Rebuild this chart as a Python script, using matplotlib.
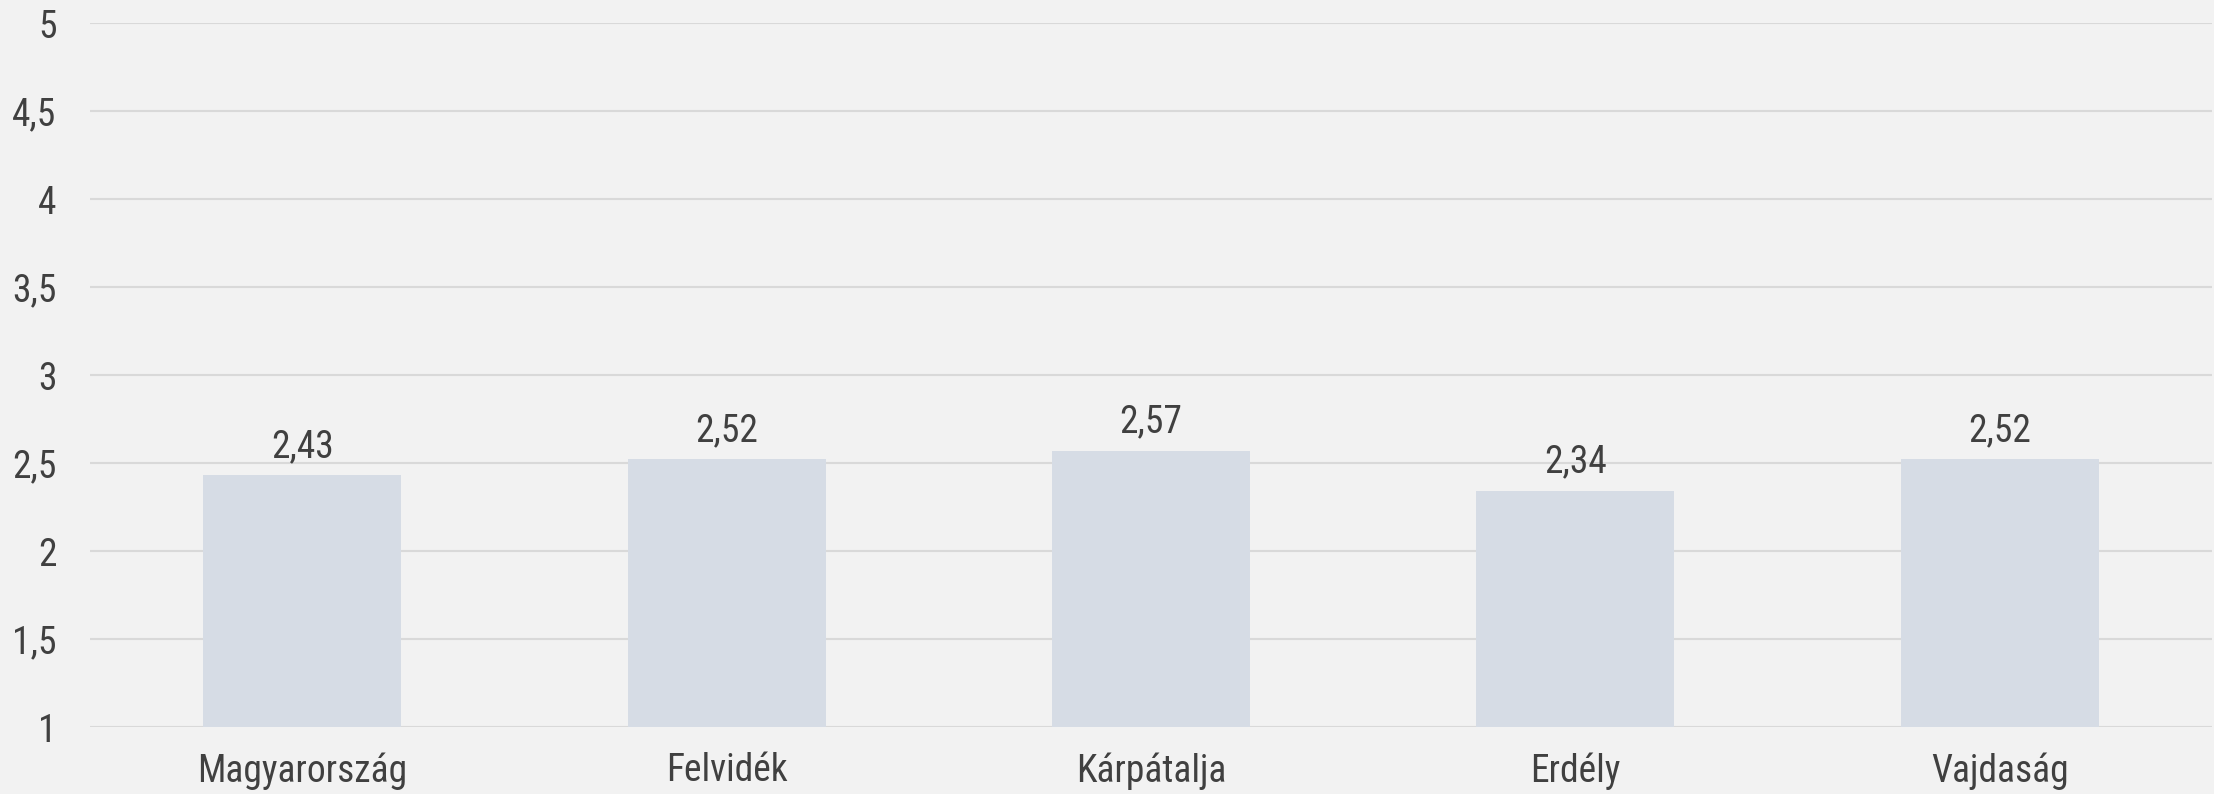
import matplotlib
matplotlib.use('Agg')
import matplotlib.pyplot as plt
from matplotlib.ticker import MultipleLocator, FuncFormatter
import numpy as np

# data
regions = ['Magyarország', 'Felvidék', 'Kárpátalja', 'Erdély', 'Vajdaság']
values = [2.43, 2.52, 2.57, 2.34, 2.52]

plt.rcParams['font.family'] = ['Roboto Condensed', 'DejaVu Sans']

bg = '#f2f2f2'
txt = '#404040'

fig = plt.figure(figsize=(22.14, 7.94), dpi=100, facecolor=bg)
ax = fig.add_axes([90/2214, 1 - 727/794, (2212-90)/2214, (727-23)/794])
ax.set_facecolor(bg)

x = np.arange(len(regions))
ax.bar(x, [v - 1 for v in values], bottom=1, width=0.467, color='#d6dce5', zorder=2)

for xi, v in zip(x, values):
    ax.text(xi, v + 0.105, ('%.2f' % v).replace('.', ','), ha='center', va='baseline',
            fontsize=27, color=txt)

ax.set_xlim(-0.5, len(regions) - 0.5)
ax.set_ylim(1, 5)
ax.yaxis.set_major_locator(MultipleLocator(0.5))
ax.yaxis.set_major_formatter(FuncFormatter(lambda v, p: ('%g' % v).replace('.', ',')))
ax.grid(axis='y', color='#d9d9d9', linewidth=1.5, zorder=0)
ax.set_xticks(x)
ax.set_xticklabels(regions)
ax.tick_params(axis='both', length=0, labelsize=27, labelcolor=txt)
ax.tick_params(axis='y', pad=24)
ax.tick_params(axis='x', pad=18)
for s in ax.spines.values():
    s.set_visible(False)

plt.savefig('out.png', dpi=100, facecolor=bg)
